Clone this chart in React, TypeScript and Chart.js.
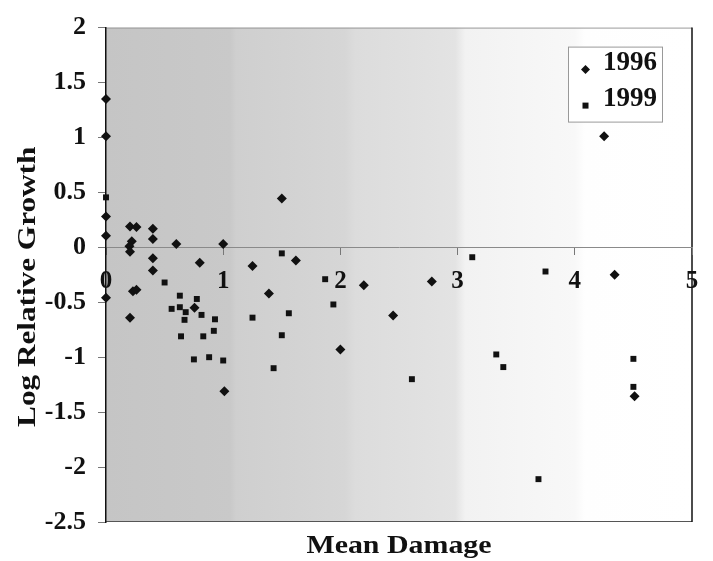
import React, { useEffect, useRef } from 'react';
import { Chart, registerables } from 'chart.js';

Chart.register(...registerables);

// ---- Data ----
const x1996 = [0, 0, 0, 0, 0, 0.205, 0.26, 0.4, 0.4, 0.22, 0.2, 0.205, 0.6, 1.0, 0.4, 0.4, 0.8, 1.25, 0.23, 0.26, 1.39, 0.755, 0.205, 1.01, 1.5, 1.62, 2.2, 2.78, 2.45, 2.0, 4.25, 4.34, 4.51];
const y1996 = [1.35, 1.01, 0.28, 0.105, -0.46, 0.19, 0.185, 0.17, 0.075, 0.055, 0.01, -0.04, 0.03, 0.03, -0.1, -0.21, -0.14, -0.17, -0.4, -0.385, -0.42, -0.55, -0.64, -1.31, 0.445, -0.12, -0.345, -0.31, -0.62, -0.93, 1.01, -0.25, -1.355];

const x1999 = [0, 0.5, 0.63, 0.775, 0.56, 0.63, 0.68, 0.815, 0.93, 0.67, 1.25, 0.64, 0.83, 0.92, 0.75, 0.88, 1.0, 1.5, 1.87, 3.125, 1.94, 1.56, 1.5, 1.43, 2.61, 3.75, 3.33, 3.39, 4.5, 4.5, 3.69];
const y1999 = [0.455, -0.32, -0.44, -0.47, -0.56, -0.545, -0.59, -0.615, -0.655, -0.66, -0.64, -0.81, -0.81, -0.76, -1.02, -1.0, -1.03, -0.055, -0.29, -0.09, -0.52, -0.6, -0.8, -1.1, -1.2, -0.22, -0.975, -1.09, -1.015, -1.27, -2.11];

const seriesLabels = ['1996', '1999'];
const xTickValues = [0, 1, 2, 3, 4, 5];
const yTickValues = [-2.5, -2, -1.5, -1, -0.5, 0, 0.5, 1, 1.5, 2];
const xTitle = 'Mean Damage';
const yTitle = 'Log Relative Growth';

const SERIF = "'Liberation Serif', 'Times New Roman', serif";

const zip = (xs: number[], ys: number[]) => xs.map((x, i) => ({ x, y: ys[i] }));

const decorPlugin = {
  id: 'decor',
  beforeDraw(chart: any) {
    const { ctx, chartArea: a } = chart;
    const g = ctx.createLinearGradient(a.left, 0, a.right, 0);
    g.addColorStop(0, '#c5c5c5');
    g.addColorStop(0.212, '#c9c9c9');
    g.addColorStop(0.222, '#cfcfcf');
    g.addColorStop(0.408, '#d6d6d6');
    g.addColorStop(0.425, '#dcdcdc');
    g.addColorStop(0.596, '#e3e3e3');
    g.addColorStop(0.613, '#f2f2f2');
    g.addColorStop(0.8, '#f8f8f8');
    g.addColorStop(0.817, '#fefefe');
    g.addColorStop(1, '#ffffff');
    ctx.save();
    ctx.fillStyle = '#ffffff';
    ctx.fillRect(0, 0, chart.width, chart.height);
    ctx.fillStyle = g;
    ctx.fillRect(a.left, a.top, a.right - a.left, a.bottom - a.top);
    // frame
    ctx.lineWidth = 1;
    ctx.strokeStyle = '#9a9a9a';
    ctx.beginPath();
    ctx.moveTo(a.left, a.top + 0.5);
    ctx.lineTo(a.right, a.top + 0.5);
    ctx.stroke();
    ctx.strokeStyle = '#555';
    ctx.beginPath();
    ctx.moveTo(a.left, a.bottom - 0.5);
    ctx.lineTo(a.right, a.bottom - 0.5);
    ctx.stroke();
    ctx.strokeStyle = '#111';
    ctx.lineWidth = 1.5;
    ctx.beginPath();
    ctx.moveTo(a.right, a.top);
    ctx.lineTo(a.right, a.bottom);
    ctx.stroke();
    ctx.restore();
  },
  afterDraw(chart: any) {
    const { ctx, chartArea: a } = chart;
    ctx.save();
    ctx.fillStyle = '#111';
    // x title
    ctx.font = `bold 26px ${SERIF}`;
    ctx.textAlign = 'center';
    ctx.textBaseline = 'alphabetic';
    ctx.save();
    ctx.translate((a.left + a.right) / 2, a.bottom + 31);
    ctx.scale(1.15, 1);
    ctx.fillText(xTitle, 0, 0);
    ctx.restore();
    // y title
    ctx.save();
    ctx.translate(35, (a.top + a.bottom) / 2 + 12);
    ctx.rotate(-Math.PI / 2);
    ctx.scale(1.2, 1);
    ctx.fillText(yTitle, 0, 0);
    ctx.restore();

    // legend
    const bx = a.right - 123.5;
    const by = a.top + 19.5;
    const bw = 94;
    const bh = 75;
    ctx.fillStyle = '#ffffff';
    ctx.fillRect(bx, by, bw, bh);
    ctx.strokeStyle = '#999';
    ctx.lineWidth = 1;
    ctx.strokeRect(bx, by, bw, bh);
    ctx.fillStyle = '#111';
    ctx.font = `bold 27px ${SERIF}`;
    ctx.textAlign = 'left';
    ctx.textBaseline = 'middle';
    const rows = [by + 16, by + 52];
    seriesLabels.forEach((lab, i) => {
      ctx.fillText(lab, bx + 34.5, rows[i]);
      const mx = bx + 17;
      const my = rows[i] + 6.5;
      ctx.beginPath();
      if (i === 0) {
        ctx.moveTo(mx - 4.5, my);
        ctx.lineTo(mx, my - 4.5);
        ctx.lineTo(mx + 4.5, my);
        ctx.lineTo(mx, my + 4.5);
        ctx.closePath();
        ctx.fill();
      } else {
        ctx.fillRect(mx - 3, my - 3, 6, 6);
      }
    });
    ctx.restore();
  },
};

export default function App() {
  const ref = useRef<HTMLCanvasElement | null>(null);

  useEffect(() => {
    if (!ref.current) return;
    const chart = new Chart(ref.current, {
      type: 'scatter',
      data: {
        datasets: [
          {
            label: seriesLabels[0],
            data: zip(x1996, y1996),
            pointStyle: 'rectRot',
            pointRadius: 5,
            backgroundColor: '#111',
            borderColor: '#111',
            borderWidth: 0,
            clip: false,
          },
          {
            label: seriesLabels[1],
            data: zip(x1999, y1999),
            pointStyle: 'rect',
            pointRadius: 4.2,
            backgroundColor: '#111',
            borderColor: '#111',
            borderWidth: 0,
            clip: false,
          },
        ],
      },
      options: {
        animation: false,
        responsive: true,
        maintainAspectRatio: false,
        layout: { padding: { top: 25, right: 21, left: 0, bottom: 39 } },
        plugins: {
          legend: { display: false },
          tooltip: { enabled: false },
        },
        scales: {
          x: {
            type: 'linear',
            min: 0,
            max: 5,
            position: { y: 0 },
            afterBuildTicks: (s: any) => {
              s.ticks = xTickValues.map((v) => ({ value: v }));
            },
            ticks: {
              padding: 12,
              color: '#111',
              maxRotation: 0,
              autoSkip: false,
              font: { family: SERIF, size: 25, weight: 'bold' },
              callback: (v: any) => String(v),
            },
            grid: { drawOnChartArea: false, drawTicks: true, tickLength: 7, color: '#777' },
            border: { display: true, color: '#8a8a8a', width: 1 },
          },
          y: {
            type: 'linear',
            min: -2.5,
            max: 2,
            afterFit: (s: any) => {
              s.width = 106;
            },
            afterBuildTicks: (s: any) => {
              s.ticks = yTickValues.map((v) => ({ value: v }));
            },
            ticks: {
              padding: 12,
              color: '#111',
              autoSkip: false,
              font: { family: SERIF, size: 26, weight: 'bold' },
              callback: (v: any) => String(Math.round(Number(v) * 10) / 10),
            },
            grid: { drawOnChartArea: false, drawTicks: true, tickLength: 8, color: '#777' },
            border: { display: true, color: '#111', width: 1.5 },
          },
        },
      } as any,
      plugins: [decorPlugin],
    });
    return () => chart.destroy();
  }, []);

  return (
    <div style={{ position: 'absolute', left: 0, top: 0, width: 713, height: 561, background: '#fff' }}>
      <canvas ref={ref} />
    </div>
  );
}
